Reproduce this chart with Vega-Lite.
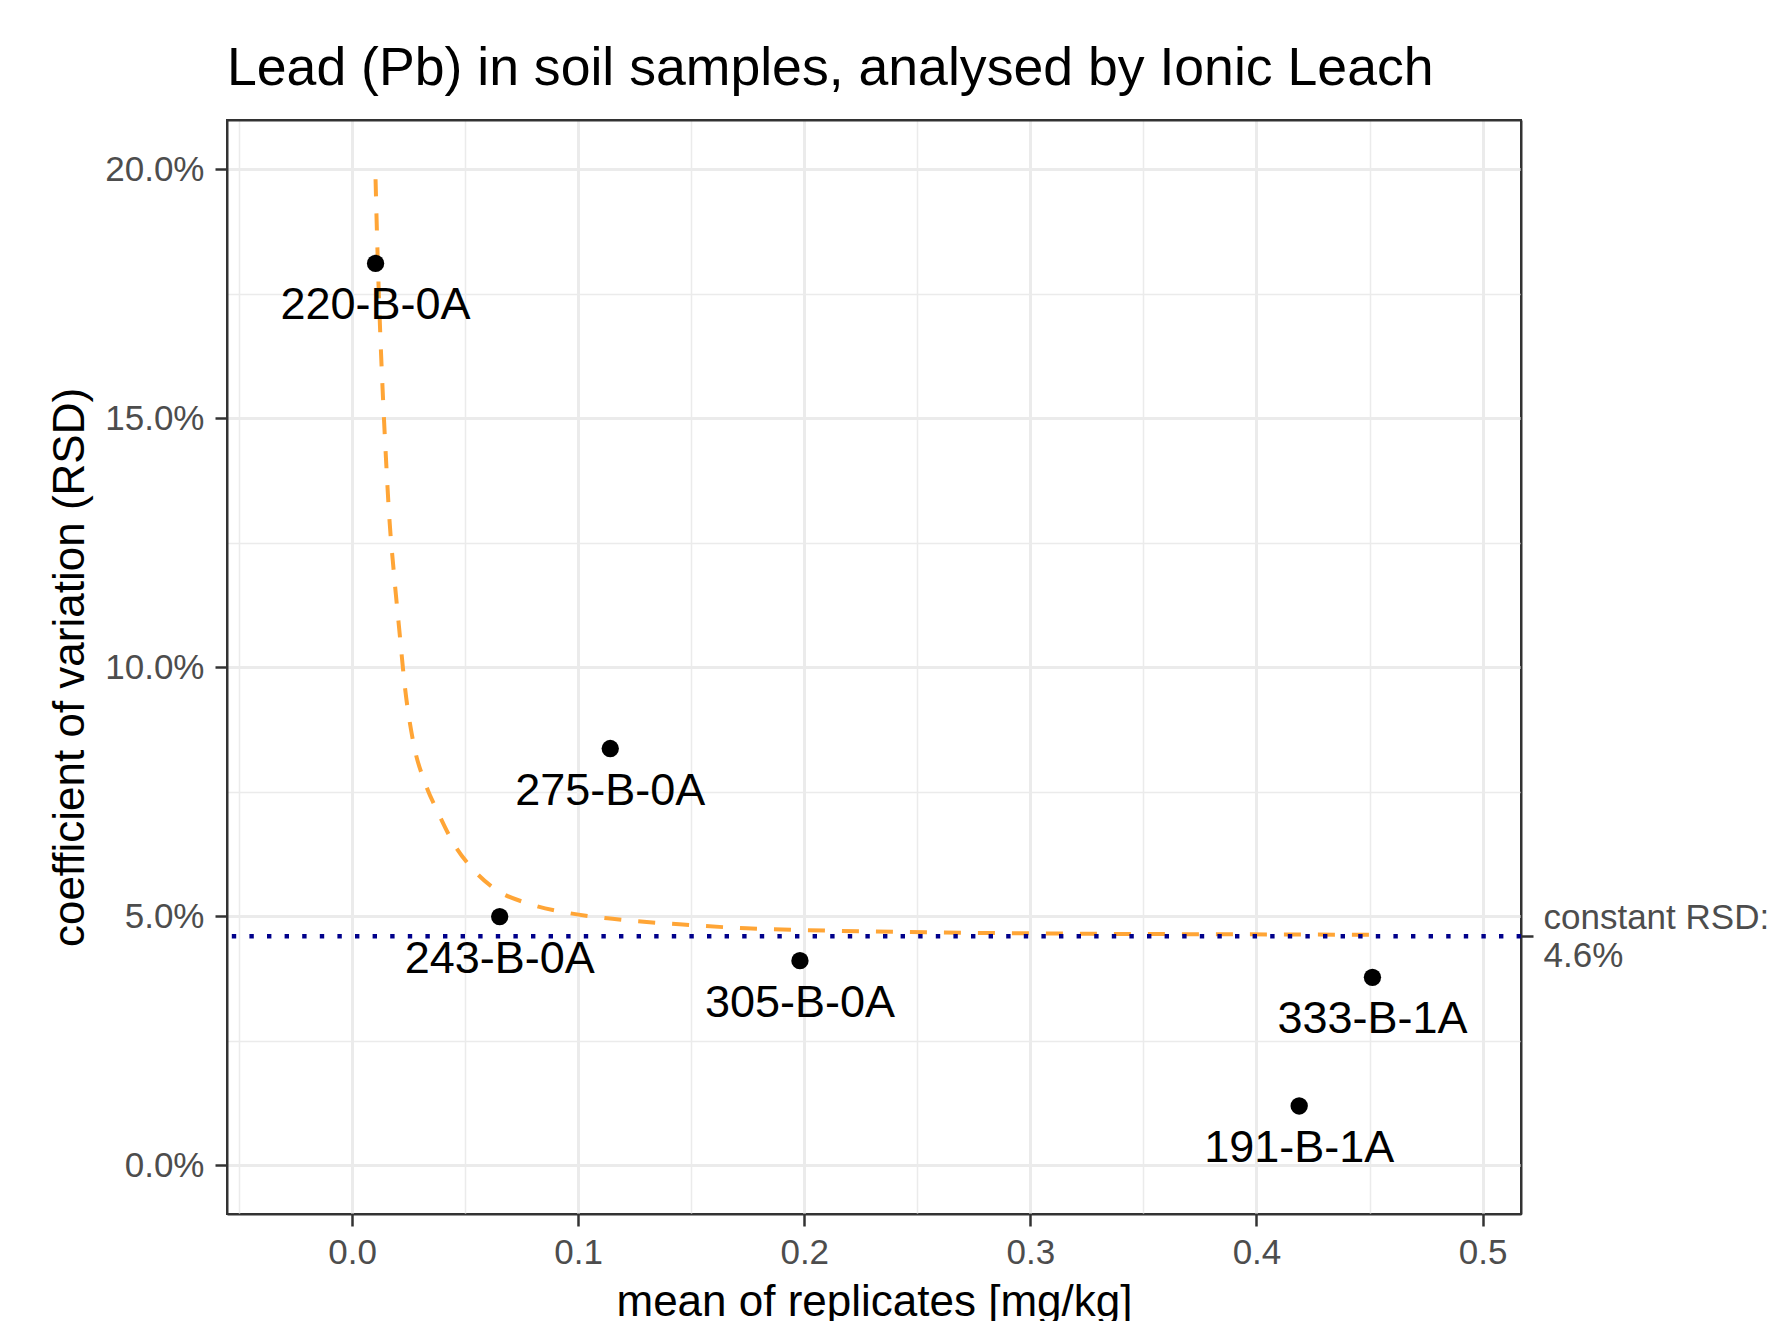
{
  "$schema": "https://vega.github.io/schema/vega-lite/v6.json",
  "width": 1294,
  "height": 1094,
  "autosize": {"type": "none"},
  "padding": {"left": 227, "top": 120, "right": 248, "bottom": 107},
  "background": "white",
  "config": {
    "font": "Liberation Sans",
    "view": {"stroke": "#333333", "strokeWidth": 2}
  },
  "title": {
    "text": "Lead (Pb) in soil samples, analysed by Ionic Leach",
    "anchor": "start",
    "frame": "group",
    "fontSize": 53.6,
    "fontWeight": "normal",
    "color": "black",
    "baseline": "alphabetic",
    "offset": -19
  },
  "datasets": {
    "samples": [
      {"sample": "220-B-0A", "mean": 0.0104, "rsd": 0.1811},
      {"sample": "275-B-0A", "mean": 0.1142, "rsd": 0.0837},
      {"sample": "243-B-0A", "mean": 0.0653, "rsd": 0.04995},
      {"sample": "305-B-0A", "mean": 0.1981, "rsd": 0.0411},
      {"sample": "333-B-1A", "mean": 0.4513, "rsd": 0.03776},
      {"sample": "191-B-1A", "mean": 0.4189, "rsd": 0.01193}
    ],
    "fit": [
      {"mean": 0.0104, "rsd": 0.198},
      {"mean": 0.0111, "rsd": 0.186},
      {"mean": 0.0120, "rsd": 0.173},
      {"mean": 0.0137, "rsd": 0.154},
      {"mean": 0.0150, "rsd": 0.142},
      {"mean": 0.0165, "rsd": 0.130},
      {"mean": 0.0185, "rsd": 0.119},
      {"mean": 0.0208, "rsd": 0.108},
      {"mean": 0.0234, "rsd": 0.096},
      {"mean": 0.0273, "rsd": 0.0845},
      {"mean": 0.0323, "rsd": 0.0768},
      {"mean": 0.0382, "rsd": 0.0707},
      {"mean": 0.0451, "rsd": 0.0645},
      {"mean": 0.0540, "rsd": 0.0592},
      {"mean": 0.0639, "rsd": 0.0553},
      {"mean": 0.0777, "rsd": 0.0526},
      {"mean": 0.0955, "rsd": 0.0507},
      {"mean": 0.1152, "rsd": 0.0495},
      {"mean": 0.1448, "rsd": 0.0484},
      {"mean": 0.1744, "rsd": 0.0476},
      {"mean": 0.2139, "rsd": 0.0471},
      {"mean": 0.2731, "rsd": 0.0467},
      {"mean": 0.3300, "rsd": 0.0465},
      {"mean": 0.3900, "rsd": 0.0464},
      {"mean": 0.4513, "rsd": 0.0463}
    ],
    "constant": [
      {"label": "constant RSD", "rsd": 0.046}
    ]
  },
  "layer": [
    {
      "encoding": {
        "x": {
          "field": "mean",
          "type": "quantitative",
          "scale": {"domain": [-0.0553, 0.517], "nice": false, "zero": false},
          "axis": {
            "orient": "bottom",
            "title": "mean of replicates [mg/kg]",
            "titleFontSize": 44,
            "titleFontWeight": "normal",
            "titleColor": "black",
            "titleBaseline": "alphabetic",
            "titleY": 101,
            "values": [-0.05, 0, 0.05, 0.1, 0.15, 0.2, 0.25, 0.3, 0.35, 0.4, 0.45, 0.5],
            "labelExpr": "abs(datum.value*10 - round(datum.value*10)) < 1e-6 ? format(datum.value, '.1f') : ''",
            "labelFontSize": 35,
            "labelColor": "#4D4D4D",
            "labelPadding": 9,
            "labelOverlap": false,
            "labelFlush": false,
            "domain": true,
            "domainColor": "#333333",
            "domainWidth": 2,
            "tickColor": "#333333",
            "tickWidth": 2.5,
            "tickSize": 12,
            "tickOpacity": {"condition": {"test": "abs(datum.value*10 - round(datum.value*10)) < 1e-6", "value": 1}, "value": 0},
            "grid": true,
            "gridColor": "#EBEBEB",
            "gridWidth": {"condition": {"test": "abs(datum.value*10 - round(datum.value*10)) < 1e-6", "value": 3}, "value": 1.5}
          }
        },
        "y": {
          "field": "rsd",
          "type": "quantitative",
          "scale": {"domain": [-0.00976, 0.2099], "nice": false, "zero": false},
          "axis": {
            "orient": "left",
            "title": "coefficient of variation (RSD)",
            "titleFontSize": 44,
            "titleFontWeight": "normal",
            "titleColor": "black",
            "titleBaseline": "alphabetic",
            "titleAngle": -90,
            "titleX": -144,
            "titleY": 547,
            "values": [0, 0.025, 0.05, 0.075, 0.1, 0.125, 0.15, 0.175, 0.2],
            "labelExpr": "abs(datum.value*20 - round(datum.value*20)) < 1e-6 ? format(datum.value, '.1%') : ''",
            "labelFontSize": 35,
            "labelColor": "#4D4D4D",
            "labelPadding": 11,
            "labelOverlap": false,
            "domain": true,
            "domainColor": "#333333",
            "domainWidth": 2,
            "tickColor": "#333333",
            "tickWidth": 2.5,
            "tickSize": 12,
            "tickOpacity": {"condition": {"test": "abs(datum.value*20 - round(datum.value*20)) < 1e-6", "value": 1}, "value": 0},
            "grid": true,
            "gridColor": "#EBEBEB",
            "gridWidth": {"condition": {"test": "abs(datum.value*20 - round(datum.value*20)) < 1e-6", "value": 3}, "value": 1.5}
          }
        }
      },
      "layer": [
        {
          "data": {"name": "fit"},
          "mark": {"type": "line", "color": "#FFA536", "strokeWidth": 4, "strokeDash": [17, 17], "interpolate": "monotone", "strokeCap": "butt"}
        },
        {
          "data": {"name": "samples"},
          "mark": {"type": "point", "shape": "circle", "filled": true, "color": "black", "opacity": 1, "size": 300}
        }
      ]
    },
    {
      "data": {"name": "constant"},
      "mark": {"type": "rule", "color": "#00008B", "strokeWidth": 4.4, "strokeDash": [4.4, 13.2], "strokeCap": "butt"},
      "encoding": {
        "y": {
          "field": "rsd",
          "type": "quantitative",
          "scale": {"domain": [-0.00976, 0.2099], "nice": false, "zero": false},
          "axis": {
            "orient": "right",
            "title": null,
            "values": [0.046],
            "labelExpr": "['constant RSD:', '4.6%']",
            "labelFontSize": 35,
            "labelColor": "#4D4D4D",
            "labelAlign": "left",
            "labelBaseline": "middle",
            "labelLineHeight": 38,
            "labelOffset": -19,
            "labelPadding": 10,
            "labelLimit": 0,
            "labelOverlap": false,
            "labelBound": false,
            "domain": true,
            "domainColor": "#333333",
            "domainWidth": 2,
            "grid": false,
            "tickColor": "#333333",
            "tickWidth": 2.5,
            "tickSize": 12
          }
        }
      }
    },
    {
      "data": {"name": "samples"},
      "mark": {"type": "text", "fontSize": 45, "color": "black", "align": "center", "baseline": "alphabetic", "dy": 56},
      "encoding": {
        "x": {
          "field": "mean",
          "type": "quantitative",
          "scale": {"domain": [-0.0553, 0.517], "nice": false, "zero": false},
          "axis": {
            "orient": "top",
            "title": null,
            "labels": false,
            "ticks": false,
            "grid": false,
            "domain": true,
            "domainColor": "#333333",
            "domainWidth": 2
          }
        },
        "y": {
          "field": "rsd",
          "type": "quantitative",
          "scale": {"domain": [-0.00976, 0.2099], "nice": false, "zero": false},
          "axis": null
        },
        "text": {"field": "sample"}
      }
    }
  ],
  "resolve": {"axis": {"x": "independent", "y": "independent"}}
}
